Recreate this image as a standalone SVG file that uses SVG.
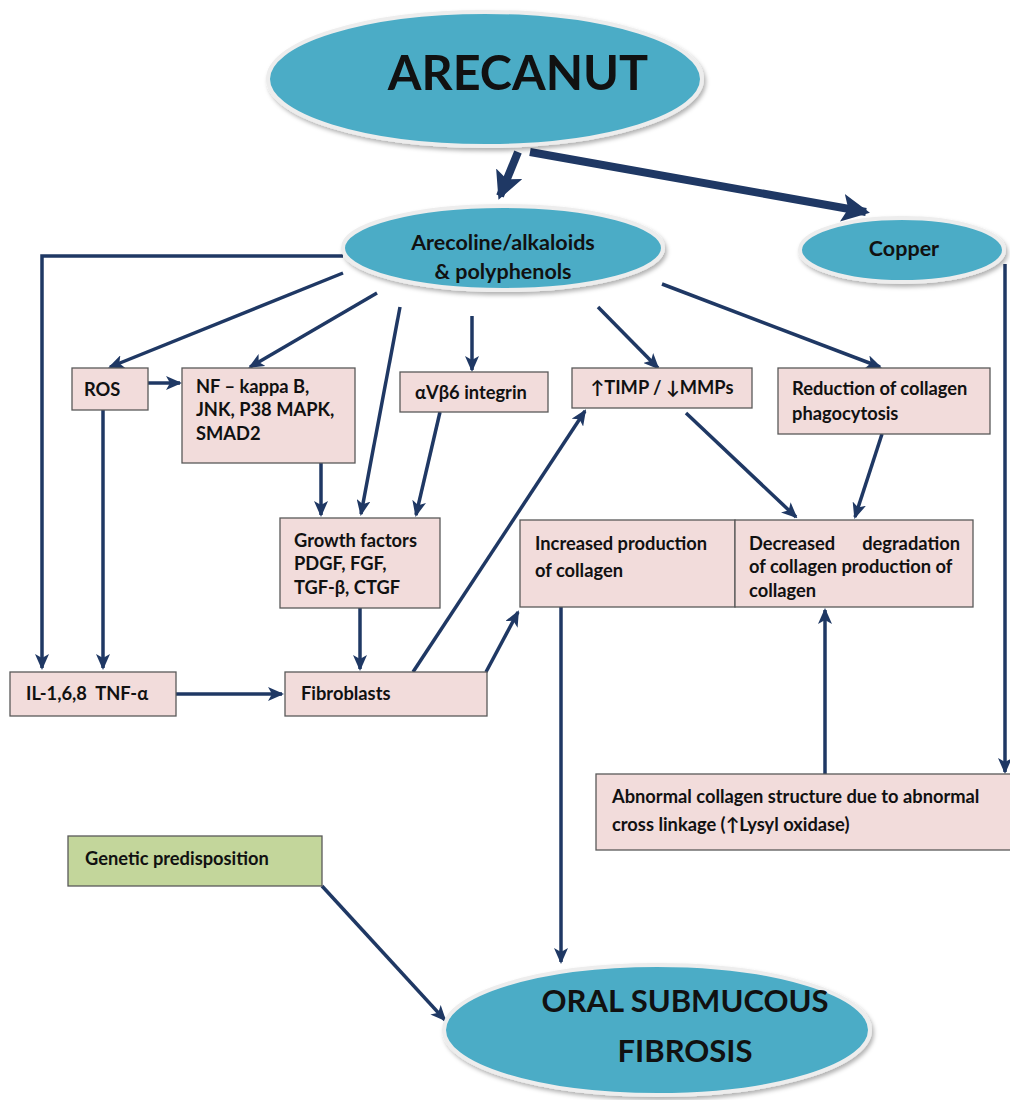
<svg xmlns="http://www.w3.org/2000/svg" width="1010" height="1100" viewBox="0 0 1010 1100">
<defs>
<style>
.ell{fill:#4BACC6;stroke:#EDEDED;stroke-width:4}
.box{fill:#F2DCDB;stroke:#595959;stroke-width:1.3}
.gbox{fill:#C3D69B;stroke:#595959;stroke-width:1.3}
.t{font-family:Lato,"Liberation Sans",sans-serif;font-weight:bold;font-size:18.3px;fill:#111}
.big{font-family:Lato,"Liberation Sans",sans-serif;font-weight:bold;fill:#111;text-anchor:middle}
.c{fill:none;stroke:#1F3864;stroke-width:3.5}
.ct{fill:none;stroke:#1F3864;stroke-width:8}
</style>
<marker id="ah" markerUnits="userSpaceOnUse" markerWidth="16" markerHeight="14" refX="14" refY="7" orient="auto"><path d="M0,0 L16,7 L0,14 L4,7 Z" fill="#1F3864"/></marker>
<marker id="ahb" markerUnits="userSpaceOnUse" markerWidth="28" markerHeight="28" refX="24" refY="14" orient="auto"><path d="M0,0 L28,14 L0,28 L6,14 Z" fill="#1F3864"/></marker>
<filter id="sh" x="-10%" y="-10%" width="120%" height="130%"><feDropShadow dx="2" dy="3" stdDeviation="2" flood-color="#000" flood-opacity="0.3"/></filter>
</defs>
<rect width="1010" height="1100" fill="#fff"/>
<g id="connectors">
<path class="ct" d="M518,152 L500,196" marker-end="url(#ahb)"/>
<path class="ct" d="M530,152 L866,212" marker-end="url(#ahb)"/>
<path class="c" d="M343,256 L42,256 L42,668" marker-end="url(#ah)"/>
<path class="c" d="M343,273 L110,367" marker-end="url(#ah)"/>
<path class="c" d="M377,293 L250,367" marker-end="url(#ah)"/>
<path class="c" d="M400,307 L361,514" marker-end="url(#ah)"/>
<path class="c" d="M472,316 L472,370" marker-end="url(#ah)"/>
<path class="c" d="M598,307 L658,368" marker-end="url(#ah)"/>
<path class="c" d="M662,284 L880,367" marker-end="url(#ah)"/>
<path class="c" d="M148,383 L180,383" marker-end="url(#ah)"/>
<path class="c" d="M103,410 L103,668" marker-end="url(#ah)"/>
<path class="c" d="M321,463 L321,515" marker-end="url(#ah)"/>
<path class="c" d="M440,412 L416,515" marker-end="url(#ah)"/>
<path class="c" d="M360,608 L360,669" marker-end="url(#ah)"/>
<path class="c" d="M176,694 L282,694" marker-end="url(#ah)"/>
<path class="c" d="M413,672 L585,411" marker-end="url(#ah)"/>
<path class="c" d="M486,672 L518,612" marker-end="url(#ah)"/>
<path class="c" d="M686,413 L796,517" marker-end="url(#ah)"/>
<path class="c" d="M882,434 L855,517" marker-end="url(#ah)"/>
<path class="c" d="M561,607 L561,962" marker-end="url(#ah)"/>
<path class="c" d="M825,774 L825,610" marker-end="url(#ah)"/>
<path class="c" d="M1005,264 L1005,772" marker-end="url(#ah)"/>
<path class="c" d="M322,886 L445,1020" marker-end="url(#ah)"/>
</g>
<g id="arecanut">
<ellipse class="ell" cx="485" cy="79" rx="217" ry="67" filter="url(#sh)"/>
<text class="big" x="518" y="90" font-size="48.5">ARECANUT</text>
</g>
<g id="arecoline">
<ellipse class="ell" cx="503" cy="248" rx="160" ry="42" filter="url(#sh)"/>
<text class="big" x="503" y="250" font-size="21.5">Arecoline/alkaloids</text>
<text class="big" x="503" y="279" font-size="21.5">&amp; polyphenols</text>
</g>
<g id="copper">
<ellipse class="ell" cx="902" cy="250" rx="102" ry="32" filter="url(#sh)"/>
<text class="big" x="904" y="256" font-size="21.5">Copper</text>
</g>
<g id="ros">
<rect class="box" x="72" y="368" width="76" height="42"/>
<text class="t" x="84" y="396">ROS</text>
</g>
<g id="nf">
<rect class="box" x="182" y="368" width="173" height="95"/>
<text class="t" x="196" y="393">NF – kappa B,</text>
<text class="t" x="196" y="416">JNK, P38 MAPK,</text>
<text class="t" x="196" y="440">SMAD2</text>
</g>
<g id="integrin">
<rect class="box" x="400" y="372" width="148" height="40"/>
<text class="t" x="415" y="399">αVβ6 integrin</text>
</g>
<g id="timp">
<rect class="box" x="572" y="368" width="180" height="40"/>
<text class="t" x="662" y="394" text-anchor="middle">↑TIMP / ↓MMPs</text>
</g>
<g id="reduction">
<rect class="box" x="778" y="368" width="212" height="66"/>
<text class="t" x="792" y="395">Reduction of collagen</text>
<text class="t" x="792" y="420">phagocytosis</text>
</g>
<g id="growth">
<rect class="box" x="280" y="518" width="160" height="90"/>
<text class="t" x="294" y="547">Growth factors</text>
<text class="t" x="294" y="570">PDGF, FGF,</text>
<text class="t" x="294" y="594">TGF-β, CTGF</text>
</g>
<g id="increased">
<rect class="box" x="520" y="520" width="215" height="87"/>
<text class="t" x="535" y="550">Increased production</text>
<text class="t" x="535" y="577">of collagen</text>
</g>
<g id="decreased">
<rect class="box" x="735" y="520" width="238" height="87"/>
<text class="t" x="749" y="550">Decreased</text>
<text class="t" x="960" y="550" text-anchor="end">degradation</text>
<text class="t" x="749" y="573">of collagen production of</text>
<text class="t" x="749" y="597">collagen</text>
</g>
<g id="il">
<rect class="box" x="10" y="672" width="166" height="44"/>
<text class="t" x="26" y="700" xml:space="preserve">IL-1,6,8  TNF-α</text>
</g>
<g id="fibroblasts">
<rect class="box" x="285" y="672" width="202" height="44"/>
<text class="t" x="301" y="700">Fibroblasts</text>
</g>
<g id="abnormal">
<rect class="box" x="596" y="774" width="420" height="76"/>
<text class="t" x="612" y="803">Abnormal collagen structure due to abnormal</text>
<text class="t" x="612" y="831">cross linkage (↑Lysyl oxidase)</text>
</g>
<g id="genetic">
<rect class="gbox" x="68" y="836" width="254" height="50"/>
<text class="t" x="85" y="865">Genetic predisposition</text>
</g>
<g id="osf">
<ellipse class="ell" cx="657" cy="1030" rx="213" ry="65" filter="url(#sh)"/>
<text class="big" x="685" y="1012" font-size="31">ORAL SUBMUCOUS</text>
<text class="big" x="685" y="1062" font-size="31">FIBROSIS</text>
</g>
</svg>
